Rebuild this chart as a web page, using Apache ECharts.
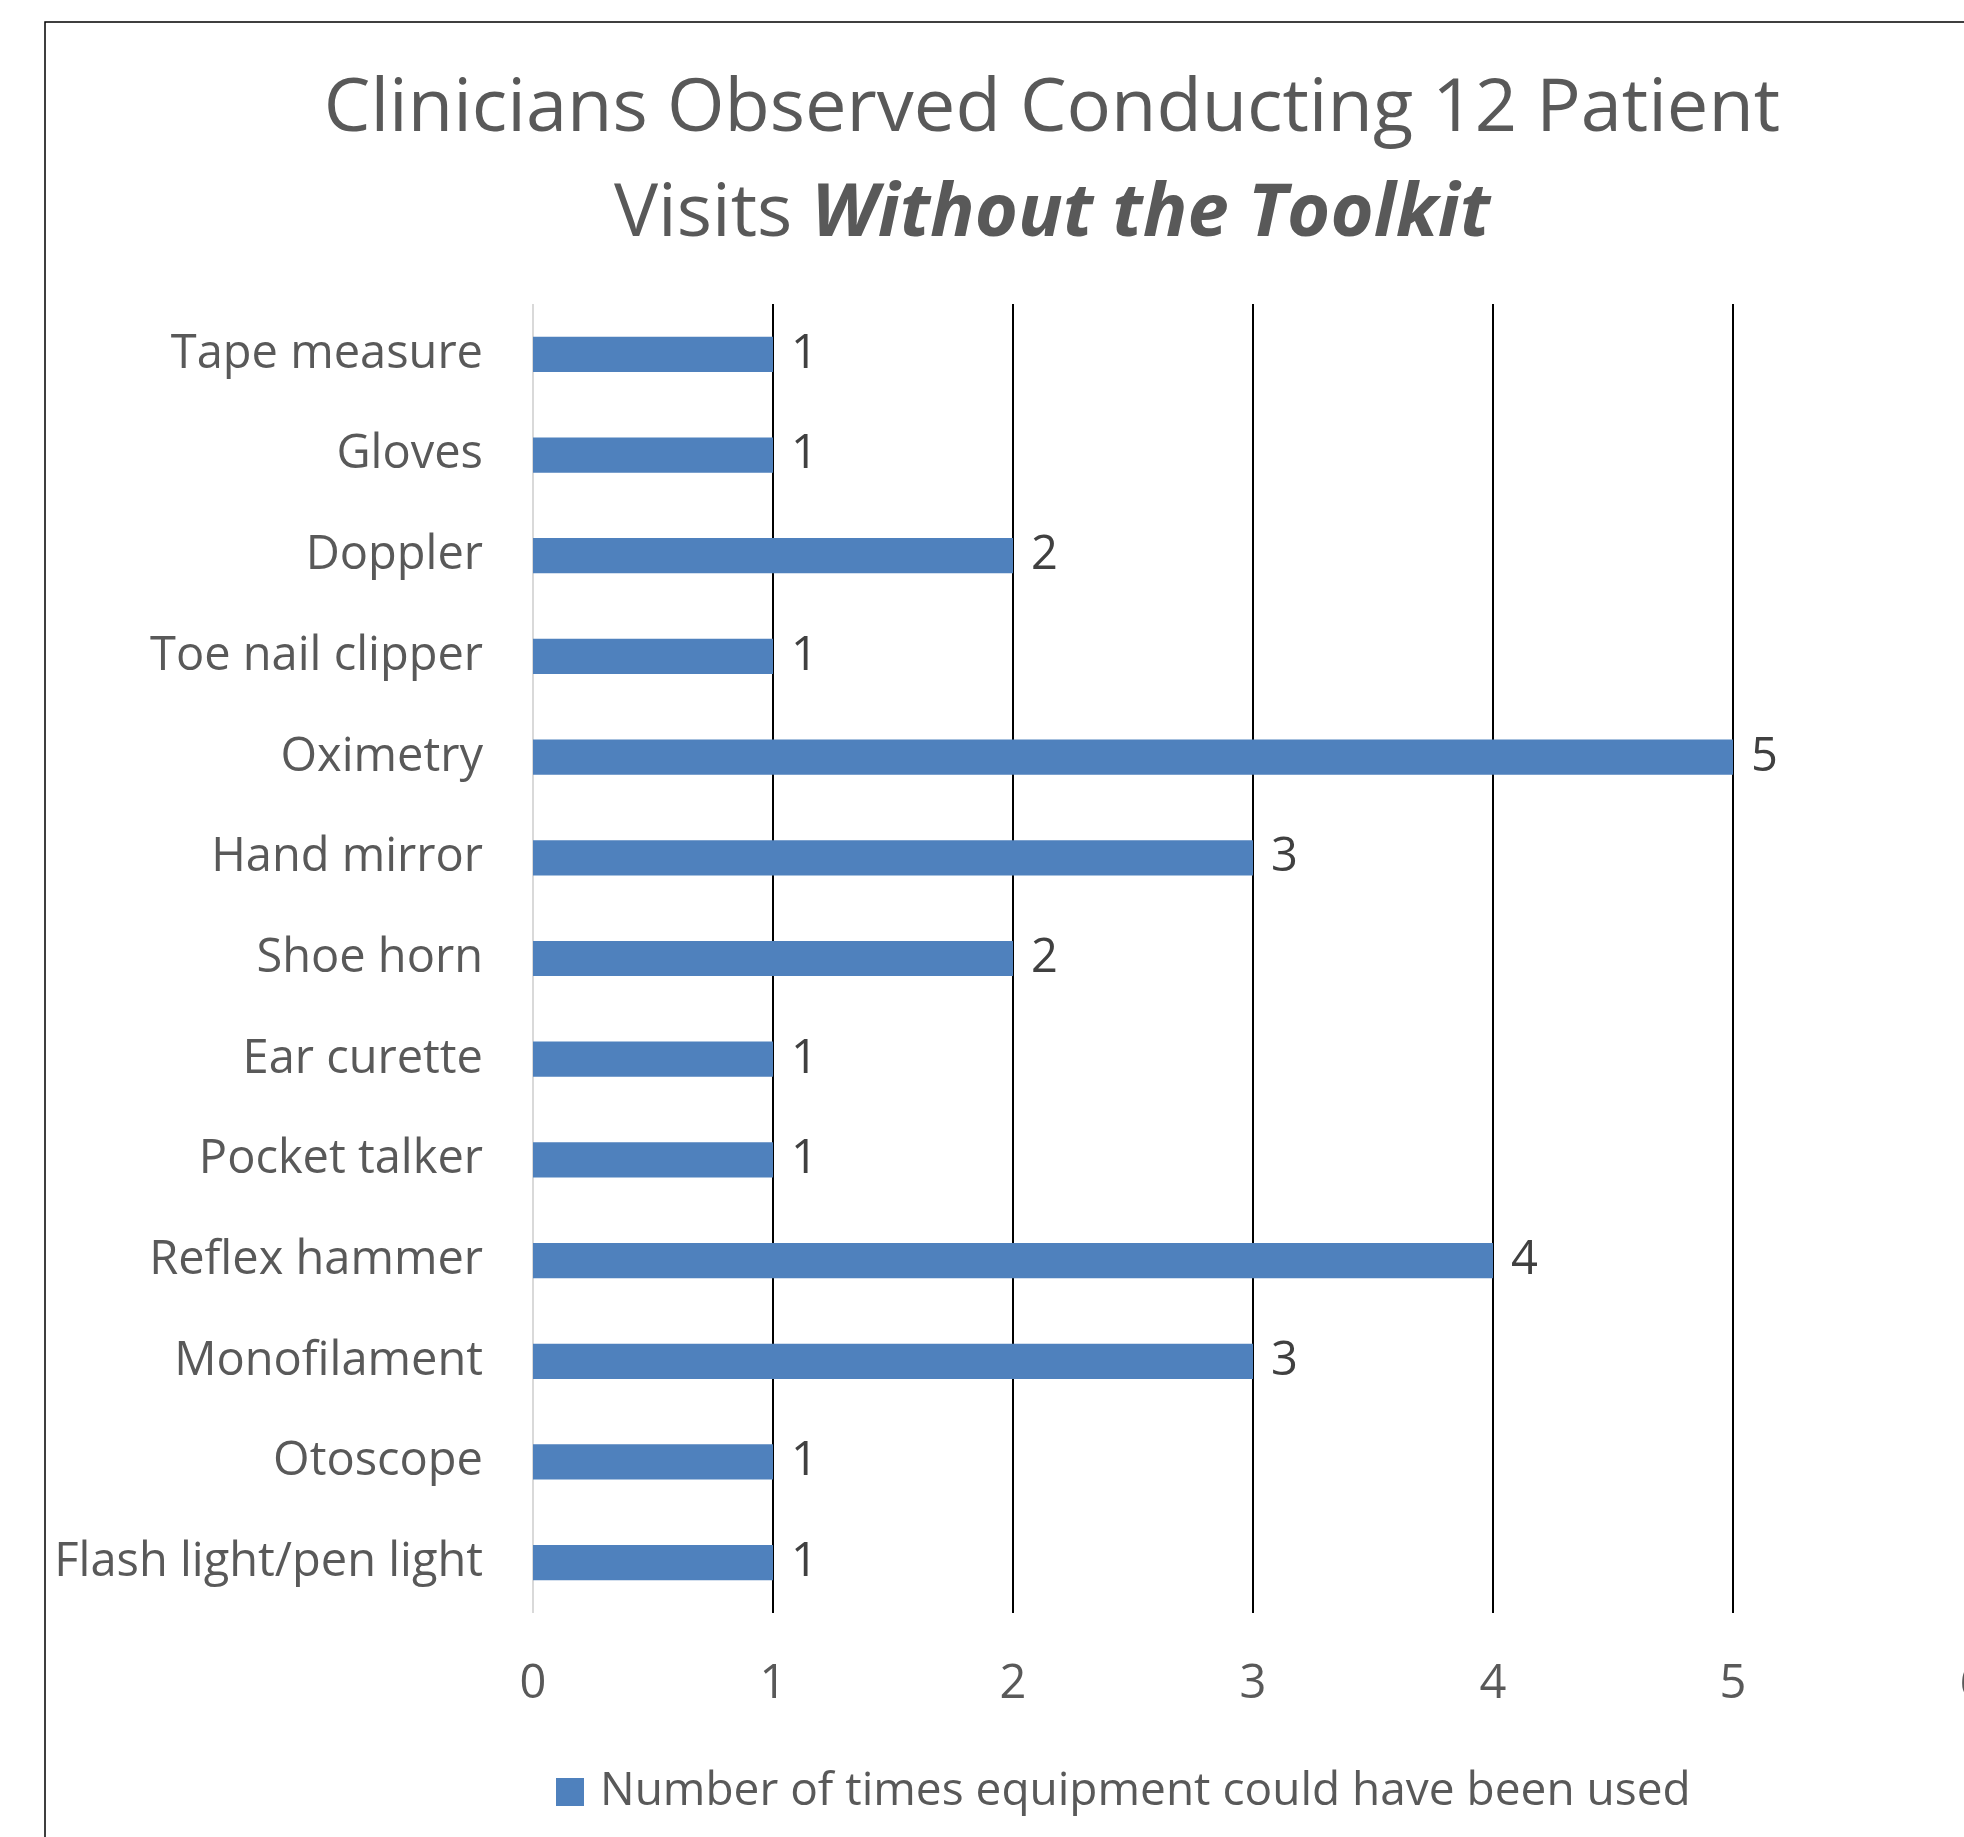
<!DOCTYPE html>
<html>
<head>
<meta charset="utf-8">
<script src="https://cdn.jsdelivr.net/npm/echarts@6/dist/echarts.min.js"></script>
<style>
html,body{margin:0;padding:0;background:#fff;}
#chart{width:1964px;height:1837px;}
</style>
</head>
<body>
<div id="chart"></div>
<script>
const categories = ['Tape measure','Gloves','Doppler','Toe nail clipper','Oximetry','Hand mirror','Shoe horn','Ear curette','Pocket talker','Reflex hammer','Monofilament','Otoscope','Flash light/pen light'];
const values = [1,1,2,1,5,3,2,1,1,4,3,1,1];
const seriesName = 'Number of times equipment could have been used';
const xTicks = [0,1,2,3,4,5,6];

const FONT = '"Open Sans", "Liberation Sans", sans-serif';
const chart = echarts.init(document.getElementById('chart'), null, {renderer:'canvas'});
chart.setOption({
  backgroundColor:'#ffffff',
  animation:false,
  title:{
    left:1047, top:52, textAlign:'center',
    text:'{a|Clinicians Observed Conducting 12 Patient}\n{a|Visits }{b|Without the Toolkit}',
    textStyle:{
      fontWeight:'normal',
      rich:{
        a:{fontFamily:FONT, fontSize:74, color:'#595959', fontWeight:'normal', lineHeight:105},
        b:{fontFamily:FONT, fontSize:74, color:'#595959', fontWeight:'bold', fontStyle:'italic', lineHeight:105}
      }
    }
  },
  graphic:[{
    type:'rect', silent:true, z:-1,
    shape:{x:45, y:22, width:2200, height:2200},
    style:{fill:'none', stroke:'#000', lineWidth:1.5}
  }],
  legend:{
    left:551, top:1764,
    itemWidth:28, itemHeight:28, icon:'rect',
    textStyle:{fontFamily:FONT, fontSize:46, color:'#595959', padding:[0,0,0,11]},
    data:[seriesName]
  },
  grid:{left:533, top:304, width:1440, height:1309, containLabel:false, outerBoundsMode:'none'},
  xAxis:{
    type:'value', min:0, max:6, interval:1,
    axisLine:{show:false}, axisTick:{show:false},
    axisLabel:{fontFamily:FONT, fontSize:47, color:'#595959', margin:48,
      formatter:function(v){return xTicks.indexOf(v)>=0 ? String(v) : '';}},
    splitLine:{show:true, lineStyle:{color:['#d9d9d9','#000','#000','#000','#000','#000','#000'], width:2}}
  },
  yAxis:{
    type:'category', data:categories, inverse:true,
    axisLine:{show:false}, axisTick:{show:false},
    axisLabel:{fontFamily:FONT, fontSize:47, color:'#595959', margin:50}
  },
  series:[{
    name:seriesName, type:'bar', data:values,
    barWidth:'35%',
    itemStyle:{color:'#4F81BD'},
    label:{show:true, position:'right', distance:18, fontFamily:FONT, fontSize:47, color:'#404040'}
  }]
});
</script>
</body>
</html>
